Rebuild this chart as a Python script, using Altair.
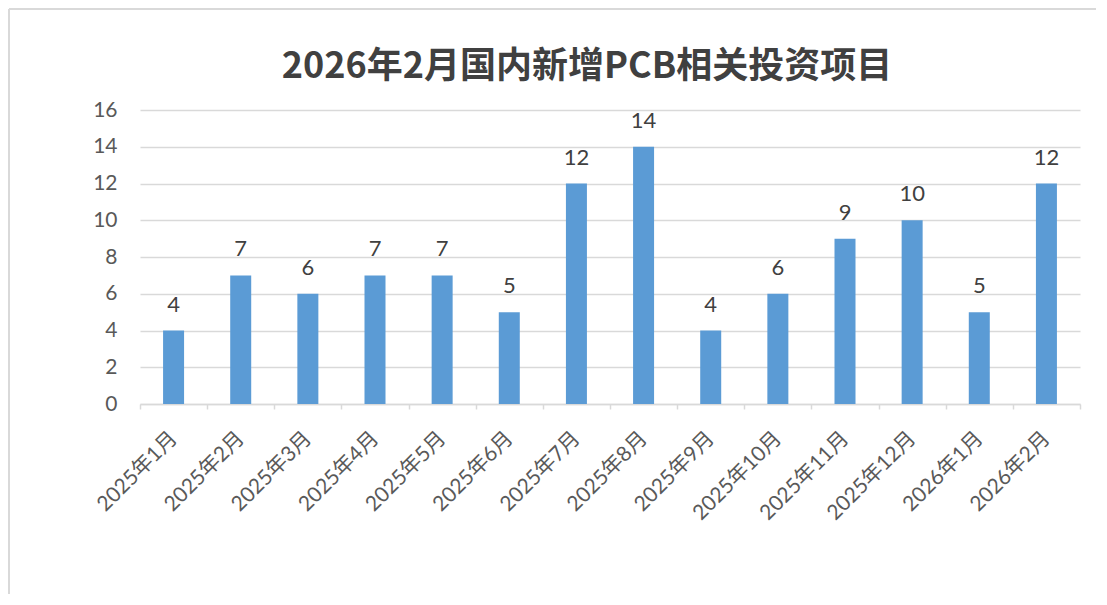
import altair as alt
import pandas as pd

months = ["2025年1月", "2025年2月", "2025年3月", "2025年4月", "2025年5月", "2025年6月",
          "2025年7月", "2025年8月", "2025年9月", "2025年10月", "2025年11月", "2025年12月",
          "2026年1月", "2026年2月"]
counts = [4, 7, 6, 7, 7, 5, 12, 14, 4, 6, 9, 10, 5, 12]
y_ticks = [0, 2, 4, 6, 8, 10, 12, 14, 16]
title_text = "2026年2月国内新增PCB相关投资项目"

df = pd.DataFrame({"month": months, "count": counts})

LATIN_CJK = "Lato, 'Noto Sans CJK SC', sans-serif"

x_enc = alt.X(
    "month:N", sort=months, title=None,
    scale=alt.Scale(paddingInner=0, paddingOuter=0),
    axis=alt.Axis(
        labelAngle=-45, labelAlign="right", labelBaseline="middle",
        labelPadding=26, tickSize=5, tickBand="extent",
        labelFont=LATIN_CJK, labelFontSize=21, labelColor="#595959",
        domainColor="#d9d9d9", domainWidth=1.5, tickColor="#d9d9d9", tickWidth=1.5,
        grid=False, labelOverlap=False,
    ),
)
y_enc = alt.Y(
    "count:Q", title=None,
    scale=alt.Scale(domain=[0, 16], nice=False),
    axis=alt.Axis(
        values=y_ticks, domain=False, ticks=False, labelPadding=23,
        labelFont="Lato", labelFontSize=21, labelColor="#595959",
        gridColor="#d9d9d9", gridWidth=1.5, labelOverlap=False,
    ),
)

base = alt.Chart(df)
bars = base.mark_bar(width=21, color="#5B9BD5").encode(x=x_enc, y=y_enc)
labels = base.mark_text(
    font="Lato", fontSize=22, color="#404040", baseline="alphabetic", dy=-19
).encode(x=x_enc, y=y_enc, text="count:Q")

frame_df = pd.DataFrame({"k": [0]})
frame_top = alt.Chart(frame_df).mark_rule(color="#d9d9d9", strokeWidth=2).encode(
    x=alt.value(-131), x2=alt.value(956), y=alt.value(-101)
)
frame_left = alt.Chart(frame_df).mark_rule(color="#d9d9d9", strokeWidth=2).encode(
    x=alt.value(-131), y=alt.value(-101), y2=alt.value(487)
)

chart = alt.layer(frame_top, frame_left, bars, labels).properties(
    width=940, height=294,
    padding={"left": 132, "top": 102, "right": 17, "bottom": 190},
    autosize=alt.AutoSizeParams(type="none"),
    title=alt.TitleParams(
        text=title_text, font="Noto Sans CJK SC", fontSize=36, fontWeight="bold",
        color="#404040", anchor="middle", frame="group", offset=-106, dx=-23,
        baseline="alphabetic",
    ),
).configure_view(strokeWidth=0)

chart.save("out.html", embed_options={"renderer": "svg", "actions": False})
